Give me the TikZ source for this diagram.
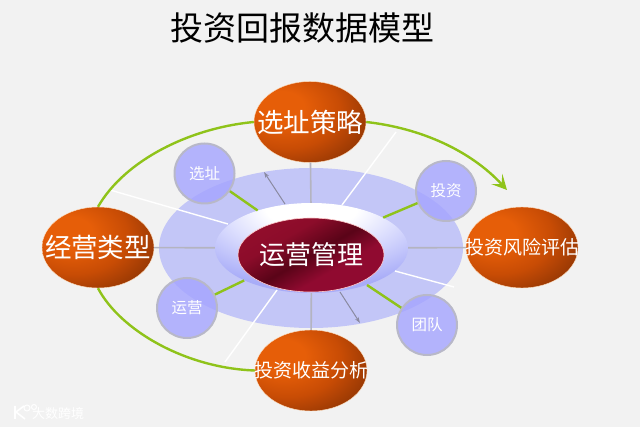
\documentclass[tikz,border=0pt]{standalone}
\usepackage{fontspec}
\setmainfont{Noto Sans CJK SC}
\usetikzlibrary{shapes.geometric,arrows.meta}
\definecolor{bgc}{HTML}{F2F2F2}
\definecolor{greenline}{HTML}{8FC31A}
\definecolor{grayline}{HTML}{B4B4C0}
\definecolor{discc}{HTML}{C3C6F7}
\definecolor{circc}{HTML}{A4A4FF}
\definecolor{circb}{HTML}{B8B8C8}
\definecolor{orbA}{HTML}{E65E08}
\definecolor{orbB}{HTML}{C84C05}
\definecolor{orbC}{HTML}{923604}
\definecolor{orbD}{HTML}{562000}
\definecolor{orbE}{HTML}{3E1600}
\definecolor{haloA}{HTML}{FFFFFF}
\definecolor{haloB}{HTML}{DEE0FE}
\definecolor{haloC}{HTML}{A8ACF8}
\definecolor{wineA}{HTML}{A01030}
\definecolor{wineB}{HTML}{8C0C2A}
\definecolor{wineC}{HTML}{5A0418}
\definecolor{wineD}{HTML}{900A30}
\definecolor{arrowgray}{HTML}{8A8AA0}
\pgfdeclareradialshading{orb}{\pgfpoint{-14bp}{10bp}}{
 color(0bp)=(orbA);
 color(10bp)=(orbA);
 color(24bp)=(orbB);
 color(38bp)=(orbC);
 color(56bp)=(orbD);
 color(100bp)=(orbE)}
\pgfdeclareradialshading{halo}{\pgfpoint{0bp}{26bp}}{
 color(0bp)=(haloA);
 color(12bp)=(haloA);
 color(22bp)=(haloB);
 color(38bp)=(haloC);
 color(100bp)=(haloC)}
\pgfdeclarehorizontalshading{wine}{100bp}{
 color(0bp)=(wineA);
 color(36bp)=(wineB);
 color(50bp)=(wineC);
 color(62bp)=(wineD);
 color(100bp)=(wineD)}
\tikzset{
 x=1pt,y=-1pt,
 orbnode/.style={ellipse,minimum width=112pt,minimum height=81pt,inner sep=0pt,shading=orb,draw=orange!25,line width=.4pt},
 orblabel/.style={text=white,inner sep=0pt},
 bubble/.style={circle,minimum size=60pt,inner sep=0pt,fill=circc,fill opacity=.8,text opacity=1,draw=circb,draw opacity=1,line width=2pt,text=white,font=\fontsize{15.5}{15.5}\selectfont},
 greenlink/.style={draw=greenline,line width=2.4pt},
 greenarc/.style={draw=greenline,line width=2.4pt},
 crossline/.style={draw=grayline,line width=1.6pt},
 whiteline/.style={draw=white,line width=1.4pt},
 grayarrow/.style={draw=arrowgray,line width=1pt,-{Stealth[length=6pt,width=4pt]}},
}
\begin{document}
\begin{tikzpicture}
\useasboundingbox (0,0) rectangle (640,427);
\fill[bgc] (0,0) rectangle (640,427);
\node[inner sep=0pt,font=\fontsize{33}{33}\selectfont] (title) at (302,28) {投资回报数据模型};
% free-end coordinates
\coordinate (wa) at (396,132);
\coordinate (wa0) at (342,205);
\coordinate (wb) at (110,190);
\coordinate (wb0) at (228,224);
\coordinate (wc) at (454,287);
\coordinate (wc0) at (395,271);
\coordinate (wd) at (225,362);
\coordinate (wd0) at (277,290);
\coordinate (ga0) at (285,204);
\coordinate (ga) at (264,172);
\coordinate (gb0) at (340,292);
\coordinate (gb) at (360,323);
\node[ellipse,minimum width=304pt,minimum height=160pt,inner sep=0pt,fill=discc] (disc) at (311,248) {};
\node[ellipse,minimum width=193pt,minimum height=90pt,inner sep=0pt,shading=halo] (halo) at (311.5,248) {};
\node[ellipse,minimum width=146pt,minimum height=74pt,inner sep=0pt,shading=wine,shading angle=-60,draw=red!20!white,line width=.6pt,label={[text=white,inner sep=0pt,font=\fontsize{26}{26}\selectfont]center:运营管理}] (core) at (311,255) {};
\node[bubble] (b1) at (204.5,173.5) {选址};
\node[bubble] (b2) at (446,191) {投资};
\node[bubble] (b3) at (187,308) {运营};
\node[bubble] (b4) at (427,325) {团队};
\node[orbnode] (top) at (310,122) {};
\node[orbnode] (left) at (98,247.5) {};
\node[orbnode] (right) at (522,247.5) {};
\node[orbnode] (bottom) at (311,370.5) {};
% cross lines
\draw[crossline] (top) -- (halo);
\draw[crossline] (bottom) -- (halo);
\draw[crossline] (left) -- (halo);
\draw[crossline] (right) -- (halo);
% green links
\draw[greenlink] (b1) -- (halo);
\draw[greenlink] (b2) -- (halo);
\draw[greenlink] (b3) -- (halo);
\draw[greenlink] (b4) -- (halo);
% white lines
\draw[whiteline] (wa0) -- (wa);
\draw[whiteline] (wb0) -- (wb);
\draw[whiteline] (wc0) -- (wc);
\draw[whiteline] (wd0) -- (wd);
% gray arrows
\draw[grayarrow] (ga0) -- (ga);
\draw[grayarrow] (gb0) -- (gb);
% big arcs
\draw[greenarc] (top.west) .. controls (190,128) and (125,160) .. (left.north);
\draw[greenarc] (left.south) .. controls (120,330) and (185,368) .. (bottom.west);
\draw[greenarc,-{Stealth[length=15pt,width=15pt,inset=7pt]}] (top.east) .. controls (420,128) and (470,150) .. (507,190);
% labels over the spheres
\node[orblabel,font=\fontsize{26.5}{26.5}\selectfont] (ltop) at (top) {选址策略};
\node[orblabel,font=\fontsize{26.5}{26.5}\selectfont] (lleft) at (left) {经营类型};
\node[orblabel,font=\fontsize{19}{19}\selectfont] (lright) at (right) {投资风险评估};
\node[orblabel,font=\fontsize{19}{19}\selectfont] (lbottom) at (bottom) {投资收益分析};
% watermark
\draw[white,line width=1.6pt] (15,406) -- (15,419) (24,406) -- (16,412) -- (25,419);
\draw[white,line width=1pt] (27,408) circle (3pt) (34,407) circle (2.5pt);
\node[text=white,font=\fontsize{13}{13}\selectfont,inner sep=0pt] (wm) at (58,414) {大数跨境};
\end{tikzpicture}
\end{document}
